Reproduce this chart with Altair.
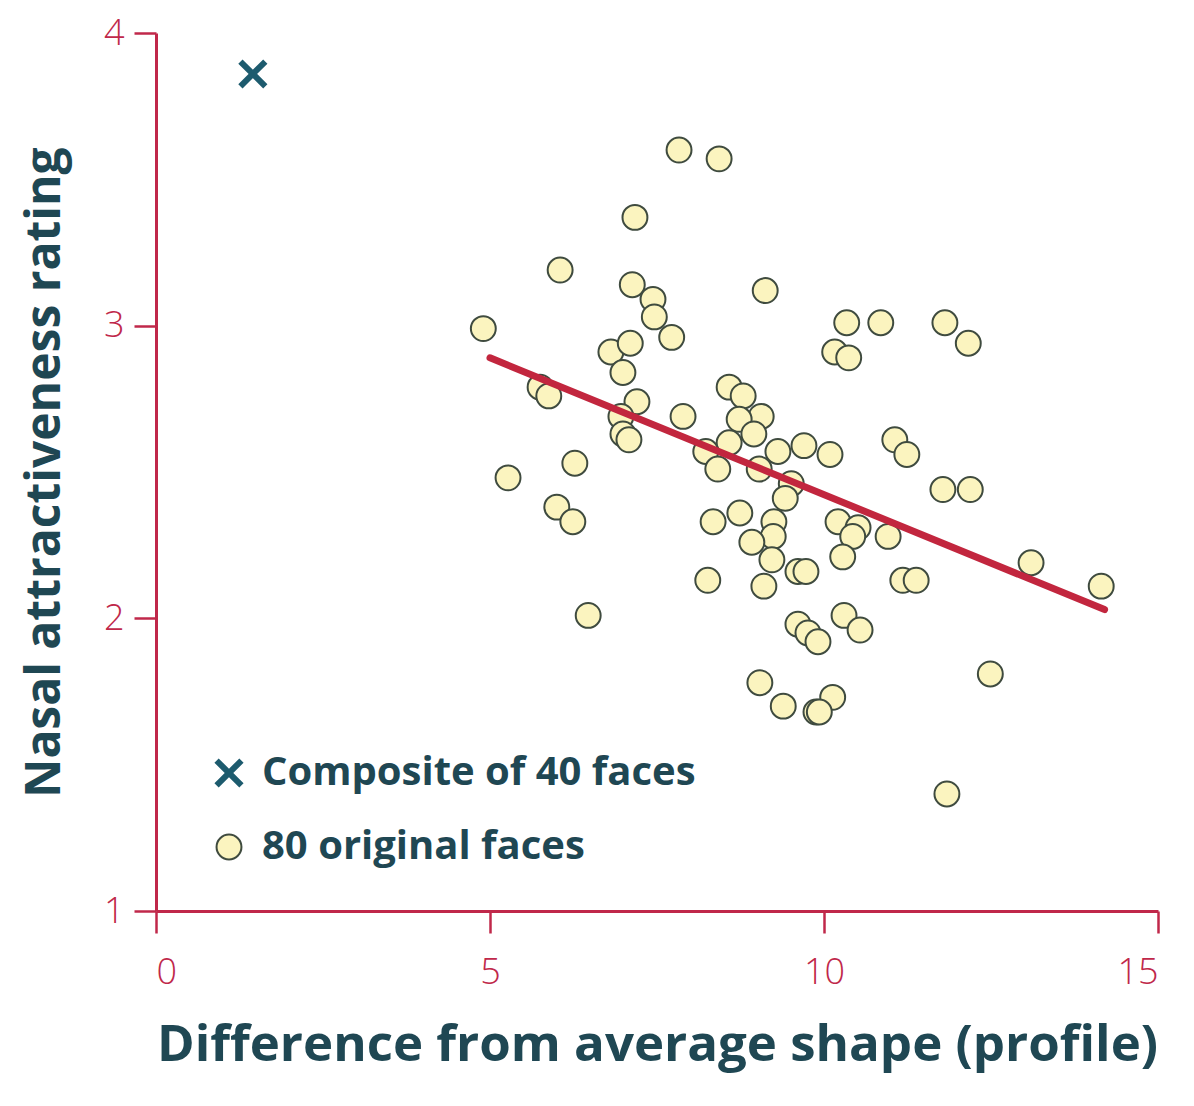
import altair as alt
import pandas as pd

# 80 original faces: difference from average shape (x) and rating (y)
orig_x = [7.83, 8.43, 7.17, 6.05, 7.13, 7.44, 7.46, 7.72, 9.12, 4.90,
          6.81, 7.10, 6.99, 5.75, 5.88, 7.20, 6.96, 6.99, 7.08, 7.89,
          8.58, 8.79, 9.06, 8.73, 8.95, 8.58, 9.31, 9.70, 8.23, 5.27,
          6.27, 6.00, 6.24, 6.47, 8.41, 9.03, 9.51, 9.42, 9.25, 9.24,
          8.92, 9.22, 8.34, 8.74, 8.26, 9.10, 9.61, 9.73, 9.61, 9.76,
          9.91, 9.04, 9.39, 9.88, 10.34, 10.85, 10.16, 10.37, 11.81, 12.16,
          10.09, 11.06, 11.24, 11.78, 12.19, 10.21, 10.51, 10.43, 10.96, 10.28,
          11.18, 11.38, 13.10, 14.15, 10.30, 10.54, 12.49, 10.13, 9.93, 11.84]
orig_y = [3.60, 3.57, 3.37, 3.19, 3.14, 3.09, 3.03, 2.96, 3.12, 2.99,
          2.91, 2.94, 2.84, 2.79, 2.76, 2.74, 2.69, 2.63, 2.61, 2.69,
          2.79, 2.76, 2.69, 2.68, 2.63, 2.60, 2.57, 2.59, 2.57, 2.48,
          2.53, 2.38, 2.33, 2.01, 2.51, 2.51, 2.46, 2.41, 2.33, 2.28,
          2.26, 2.20, 2.33, 2.36, 2.13, 2.11, 2.16, 2.16, 1.98, 1.95,
          1.92, 1.78, 1.70, 1.68, 3.01, 3.01, 2.91, 2.89, 3.01, 2.94,
          2.56, 2.61, 2.56, 2.44, 2.44, 2.33, 2.31, 2.28, 2.28, 2.21,
          2.13, 2.13, 2.19, 2.11, 2.01, 1.96, 1.81, 1.73, 1.68, 1.40]

# composite of 40 faces
comp_x = [1.45]
comp_y = [3.86]

# regression line end points
line_x = [5.0, 14.2]
line_y = [2.89, 2.03]

x_ticks = [0, 5, 10, 15]
y_ticks = [1, 2, 3, 4]

series_names = ["Composite of 40 faces", "80 original faces"]

pts = pd.DataFrame({
    "x": comp_x + orig_x,
    "y": comp_y + orig_y,
    "series": [series_names[0]] * len(comp_x) + [series_names[1]] * len(orig_x),
})
lin = pd.DataFrame({"x": line_x, "y": line_y})

AXIS_RED = "#c0284a"
TITLE_COL = "#1f4753"
XPATH = "M-1,-1L1,1M1,-1L-1,1"

xscale = alt.Scale(domain=[0, 15], nice=False, zero=False)
yscale = alt.Scale(domain=[1, 4], nice=False, zero=False)


def leg():
    return alt.Legend(title=None, orient="none", legendX=53, legendY=720,
                      symbolSize=620, labelFontSize=40, labelFont="Open Sans",
                      labelFontWeight="bold", labelColor=TITLE_COL,
                      rowPadding=29, labelOffset=13, labelLimit=700)


points = alt.Chart(pts).mark_point(filled=True, size=620, opacity=1).encode(
    x=alt.X("x:Q", scale=xscale,
            axis=alt.Axis(title="Difference from average shape (profile)", values=x_ticks, format="d")),
    y=alt.Y("y:Q", scale=yscale,
            axis=alt.Axis(title="Nasal attractiveness rating", values=y_ticks, format="d")),
    shape=alt.Shape("series:N", scale=alt.Scale(domain=series_names, range=[XPATH, "circle"]), legend=leg()),
    fill=alt.Fill("series:N", scale=alt.Scale(domain=series_names, range=["transparent", "#fbf4bf"]), legend=leg()),
    stroke=alt.Stroke("series:N", scale=alt.Scale(domain=series_names, range=["#1d5b6e", "#3f4b3f"]), legend=leg()),
    strokeWidth=alt.StrokeWidth("series:N", scale=alt.Scale(domain=series_names, range=[6, 2]), legend=leg()),
)

line = alt.Chart(lin).mark_line(color="#c2263e", strokeWidth=7, strokeCap="round").encode(
    x=alt.X("x:Q", scale=xscale),
    y=alt.Y("y:Q", scale=yscale),
)

chart = alt.layer(points, line).properties(
    width=1002, height=878,
    padding={"left": 13, "top": 7, "right": 5, "bottom": 14},
).configure_view(stroke=None).configure_axis(
    domainColor=AXIS_RED, domainWidth=3, tickColor=AXIS_RED, tickWidth=2.5, tickSize=22,
    labelColor=AXIS_RED, labelFont="Open Sans", labelFontSize=36, labelFontWeight=300,
    titleColor=TITLE_COL, titleFont="Open Sans", titleFontWeight="bold",
    grid=False,
).configure_axisY(
    labelPadding=10, titlePadding=34, titleFontSize=48,
).configure_axisX(
    labelPadding=22, titlePadding=30, titleFontSize=51,
)

chart.save("out.html", embed_options={"renderer": "svg", "actions": False})
